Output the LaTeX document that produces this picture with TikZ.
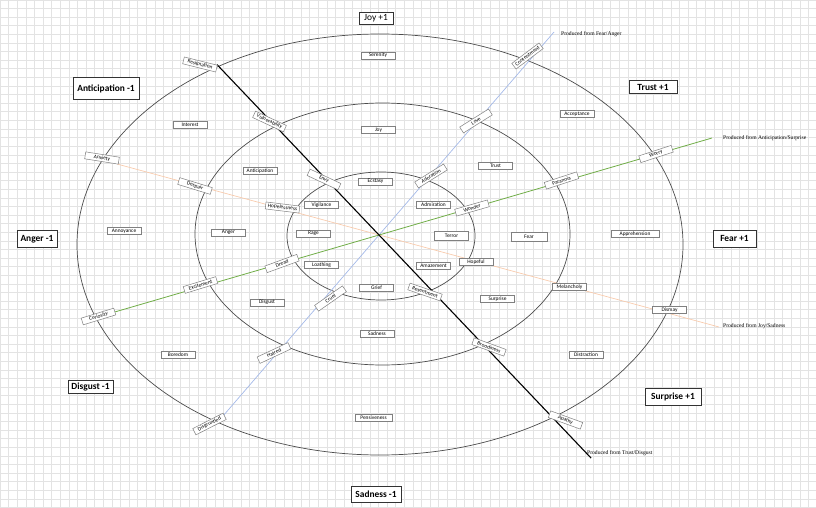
\documentclass[tikz,border=0pt]{standalone}
\usepackage{fontspec}
\setmainfont{Carlito}
\newfontfamily\prodfont{Liberation Serif}
\definecolor{fearanger}{HTML}{A4B9E8}
\definecolor{antsur}{HTML}{70AD47}
\definecolor{joysad}{HTML}{F8CBAD}
\tikzset{
  gridline/.style={draw=black!11, line width=0.6pt},
  ring/.style={draw=black!70, line width=0.7pt},
  emo/.style={draw=black!50, fill=white, line width=0.5pt, minimum width=34pt, minimum height=7pt,
    inner sep=0pt, font={\fontsize{5.4}{6}\selectfont}},
  axis/.style={draw=black!80, fill=white, line width=1pt, inner sep=0pt,
    font={\fontsize{9.4}{10}\selectfont\bfseries}},
  produced/.style={anchor=west, inner sep=0pt, font={\prodfont\fontsize{5.6}{6}\selectfont}}
}
\begin{document}
\begin{tikzpicture}[x=1pt,y=-1pt]
  \useasboundingbox (0,0) rectangle (816,508);
  % grid paper
  \foreach \gx in {0,8.6,...,816} {
    \draw[gridline] (\gx,0) -- (\gx,508);
  }
  \foreach \gy in {0,8.6,...,508} {
    \draw[gridline] (0,\gy) -- (816,\gy);
  }
  % rings
  \draw[ring] (380,244.5) ellipse [x radius=303pt, y radius=210.5pt];
  \draw[ring] (382.5,234) ellipse [x radius=187.5pt, y radius=131pt];
  \draw[ring] (381,236) ellipse [x radius=94pt, y radius=64pt];
  % ends of the mixing lines
  \coordinate (tdA) at (217,64.6);  \coordinate (tdB) at (591,458);
  \coordinate (faA) at (223,416);   \coordinate (faB) at (554,32);
  \coordinate (asA) at (113,312.5); \coordinate (asB) at (712,138);
  \coordinate (jsA) at (117,164);   \coordinate (jsB) at (719,327);
  \draw[joysad, line width=0.7pt] (jsA) -- (jsB);
  \draw[fearanger, line width=0.7pt] (faA) -- (faB);
  \draw[antsur, line width=0.8pt] (asA) -- (asB);
  \draw[black, line width=1.1pt] (tdA) -- (tdB);
  \node[produced] (fa) at (561,34) {Produced from Fear/Anger};
  \node[produced] (as) at (723,138) {Produced from Anticipation/Surprise};
  \node[produced] (js) at (723,326) {Produced from Joy/Sadness};
  \node[produced] (td) at (587,453) {Produced from Trust/Disgust};
  % emotions in the rings
  \foreach \t/\x/\y in {Serenity/378/55.5, Interest/190/125, Acceptance/577/114, Annoyance/124/231,
      Boredom/178/355, Distraction/586/355, Joy/378.5/130, Anticipation/260/171, Trust/495.5/165.5,
      Anger/228.5/232.5, Disgust/267/302.5, Surprise/497.5/299, Sadness/377/333.5,
      Ecstasy/375.5/181.5, Vigilance/321.5/205, Admiration/433.5/205, Rage/313.5/233.5,
      Loathing/321.5/265, Amazement/433.5/265.5, Grief/376.5/287.5} {
    \node[emo] (\t) at (\x,\y) {\t};
  }
  \node[emo, minimum width=48pt] (Apprehension) at (635,234) {Apprehension};
  \node[emo, minimum width=37pt] (Pensiveness) at (373.5,418) {Pensiveness};
  \node[emo, minimum height=9pt] (Terror) at (451.5,235.5) {Terror};
  \node[emo, minimum width=36pt, minimum height=9pt] (Fear) at (529,236.5) {Fear};
  % mixed emotions on the lines
  \foreach \t/\x/\y/\r in {Resignation/200/64.5/-14, Vulnerability/269.5/121.5/-25, Envy/324/179.5/-25,
      Resentment/425/292/-19, Broodiness/489/347/-20, Apathy/565.5/420/-20,
      Contentment/527.5/56/37, Love/476/121/32, Adoration/431/176/32,
      Cruel/330.5/298.5/35, Hatred/274/353/25, Disgruntled/209.5/424/27,
      Curiosity/98.5/316.5/17, Excitement/200.5/285/17, Dread/282/263.5/20,
      Wonder/472/208/16, Paranoia/561.5/180.5/18, Worry/656/154/18,
      Anxiety/102/158/-9, Despair/195/186/-17, Hopelessness/282.5/207.5/-7,
      Hopeful/476/262/0, Melancholy/569.5/287/0, Dismay/669.5/310/0} {
    \node[emo, rotate=\r] (\t) at (\x,\y) {\t};
  }
  % axis labels
  \node[axis, font={\fontsize{9.4}{10}\selectfont}, minimum width=34pt, minimum height=11.3pt] (joyAxis) at (376,18.5) {Joy +1};
  \foreach \n/\t/\x/\y/\w/\h in {antAxis/Anticipation -1/106/88.5/66/21.7, trustAxis/Trust +1/653/87/48/13,
      angerAxis/Anger -1/37/239/40/17, fearAxis/Fear +1/734.5/238.5/43/17,
      disgustAxis/Disgust -1/90.5/387/45/13, sadAxis/Sadness -1/376/494/50/16,
      surpriseAxis/Surprise +1/673/397/56/17} {
    \node[axis, minimum width=\w pt, minimum height=\h pt] (\n) at (\x,\y) {\t};
  }
\end{tikzpicture}
\end{document}
